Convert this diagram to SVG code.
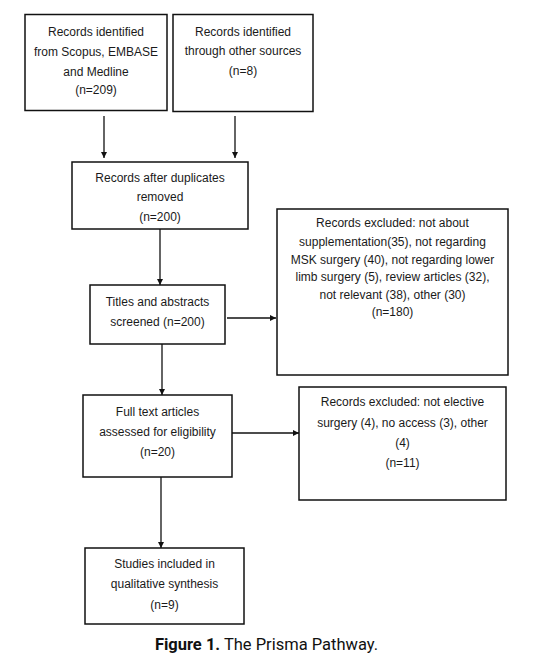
<svg xmlns="http://www.w3.org/2000/svg" width="533" height="657" viewBox="0 0 533 657">
<style>
.box{fill:#fff;stroke:#111;stroke-width:1.5}
.t{font-family:"Liberation Sans",Arial,sans-serif;font-size:12px;fill:#1a1a1a;text-anchor:middle}
.c{stroke:#111;stroke-width:1.3;fill:none}
.cap{font-family:Roboto,"Liberation Sans",sans-serif;font-size:16.5px;fill:#111;text-anchor:middle}
</style>
<defs>
<marker id="ah" viewBox="0 0 10 10" refX="10" refY="5" markerWidth="6" markerHeight="6" markerUnits="userSpaceOnUse" orient="auto">
<path d="M0,0 L10,5 L0,10 z" fill="#111"/>
</marker>
</defs>
<rect width="533" height="657" fill="#fff"/>
<g id="n1">
<rect class="box" x="25" y="14.5" width="142" height="96"/>
<text class="t" x="96" y="36">Records identified</text>
<text class="t" x="96" y="56">from Scopus, EMBASE</text>
<text class="t" x="96" y="76">and Medline</text>
<text class="t" x="96" y="94">(n=209)</text>
</g>
<g id="n2">
<rect class="box" x="173" y="14.5" width="140" height="97"/>
<text class="t" x="243" y="36">Records identified</text>
<text class="t" x="243" y="55">through other sources</text>
<text class="t" x="243" y="75">(n=8)</text>
</g>
<g id="n3">
<rect class="box" x="72" y="162" width="176" height="67"/>
<text class="t" x="160" y="182">Records after duplicates</text>
<text class="t" x="160" y="201">removed</text>
<text class="t" x="160" y="221">(n=200)</text>
</g>
<g id="n4">
<rect class="box" x="90" y="285" width="135" height="59"/>
<text class="t" x="157.5" y="306">Titles and abstracts</text>
<text class="t" x="157.5" y="326">screened (n=200)</text>
</g>
<g id="n5">
<rect class="box" x="277" y="209" width="231" height="166"/>
<text class="t" x="392.5" y="227">Records excluded: not about</text>
<text class="t" x="392.5" y="246">supplementation(35), not regarding</text>
<text class="t" x="392.5" y="264">MSK surgery (40), not regarding lower</text>
<text class="t" x="392.5" y="281">limb surgery (5), review articles (32),</text>
<text class="t" x="392.5" y="299">not relevant (38), other (30)</text>
<text class="t" x="392.5" y="316">(n=180)</text>
</g>
<g id="n6">
<rect class="box" x="83" y="395" width="149" height="82"/>
<text class="t" x="157.5" y="416">Full text articles</text>
<text class="t" x="157.5" y="436">assessed for eligibility</text>
<text class="t" x="157.5" y="456">(n=20)</text>
</g>
<g id="n7">
<rect class="box" x="299" y="387" width="207" height="113"/>
<text class="t" x="402.5" y="406">Records excluded: not elective</text>
<text class="t" x="402.5" y="427">surgery (4), no access (3), other</text>
<text class="t" x="402.5" y="447">(4)</text>
<text class="t" x="402.5" y="467">(n=11)</text>
</g>
<g id="n8">
<rect class="box" x="85" y="548" width="159" height="76"/>
<text class="t" x="164.5" y="568">Studies included in</text>
<text class="t" x="164.5" y="588">qualitative synthesis</text>
<text class="t" x="164.5" y="609">(n=9)</text>
</g>
<g id="connectors">
<line class="c" x1="104" y1="116" x2="104" y2="158" marker-end="url(#ah)"/>
<line class="c" x1="235" y1="116" x2="235" y2="158" marker-end="url(#ah)"/>
<line class="c" x1="160" y1="229" x2="160" y2="285" marker-end="url(#ah)"/>
<line class="c" x1="227" y1="318" x2="276" y2="318" marker-end="url(#ah)"/>
<line class="c" x1="162" y1="344" x2="162" y2="395" marker-end="url(#ah)"/>
<line class="c" x1="232" y1="433" x2="299" y2="433" marker-end="url(#ah)"/>
<line class="c" x1="161" y1="477" x2="161" y2="548" marker-end="url(#ah)"/>
</g>
<text class="cap" x="266.5" y="650"><tspan font-weight="bold">Figure 1.</tspan> The Prisma Pathway.</text>
</svg>
